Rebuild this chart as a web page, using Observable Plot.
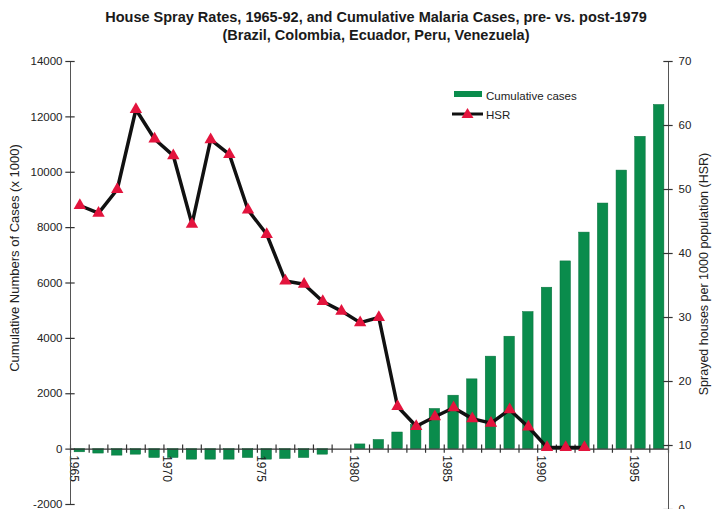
<!DOCTYPE html>
<html>
<head>
<meta charset="utf-8">
<script src="https://cdn.jsdelivr.net/npm/d3@7"></script>
<script src="https://cdn.jsdelivr.net/npm/@observablehq/plot@0.6"></script>
<style>
  body { margin: 0; background: #fff; font-family: "Liberation Sans", Arial, sans-serif; }
  #wrap { position: relative; width: 714px; height: 509px; overflow: hidden; background: #fff; }
  #title { position: absolute; left: 0; top: 8px; width: 752px; text-align: center; font-weight: bold;
           font-size: 14.5px; line-height: 18px; color: #1a1a1a; }
  #chart { position: absolute; left: 0; top: 50px; }
  .lg { position: absolute; font-size: 11.5px; line-height: 14px; color: #222; white-space: nowrap; }
</style>
</head>
<body>
<div id="wrap">
  <div id="title">House Spray Rates, 1965-92, and Cumulative Malaria Cases, pre- vs. post-1979<br>(Brazil, Colombia, Ecuador, Peru, Venezuela)</div>
  <div id="chart"></div>
  <div class="lg" style="left:454px;top:91px;width:28px;height:6px;background:#0a8c4c;"></div>
  <div class="lg" style="left:486px;top:89px;">Cumulative cases</div>
  <svg class="lg" style="left:452px;top:106px;" width="32" height="14">
    <line x1="0" y1="8" x2="31" y2="8" stroke="#111" stroke-width="3"/>
    <path d="M15.5,2 L21.5,12 L9.5,12 Z" fill="#e3143d"/>
  </svg>
  <div class="lg" style="left:486px;top:108px;">HSR</div>
</div>
<script>
// ---- data ----
const barYears = [1965,1966,1967,1968,1969,1970,1971,1972,1973,1974,1975,1976,1977,1978,1979,1980,
                  1981,1982,1983,1984,1985,1986,1987,1988,1989,1990,1991,1992,1993,1994,1995,1996];
const cumulativeCases = [-115,-160,-235,-200,-320,-320,-380,-380,-380,-320,-380,-355,-320,-200,0,170,
                         330,600,870,1450,1930,2520,3340,4060,4950,5830,6780,7820,8870,10060,11280,12430];
const hsrYears = [1965,1966,1967,1968,1969,1970,1971,1972,1973,1974,1975,1976,1977,1978,
                  1979,1980,1981,1982,1983,1984,1985,1986,1987,1988,1989,1990,1991,1992];
const hsrValues = [47.5,46.3,50.0,62.5,57.9,55.3,44.6,57.8,55.5,46.8,43.0,35.7,35.2,32.5,
                   31.0,29.2,30.0,16.1,13.0,14.5,15.9,14.2,13.5,15.6,12.9,9.7,9.7,9.7];
const caseTicks = [-2000,0,2000,4000,6000,8000,10000,12000,14000];
const hsrTicks = [0,10,20,30,40,50,60,70];
const axisYears = [1965,1966,1967,1968,1969,1970,1971,1972,1973,1974,1975,1976,1977,1978,1979,1980,1981,
                   1982,1983,1984,1985,1986,1987,1988,1989,1990,1991,1992,1993,1994,1995,1996,1997];
const yearLabels = [1965,1970,1975,1980,1985,1990,1995];

// secondary (HSR) axis expressed in the primary (cases) scale
const HSR_ZERO = -2181;
const HSR_K = (14000 - HSR_ZERO) / 70;
const toCases = v => HSR_ZERO + v * HSR_K;

const bars = barYears.map((y, i) => ({year: y, cases: cumulativeCases[i]}));
const hsr = hsrYears.map((y, i) => ({year: y, hsr: hsrValues[i]}));

const green = "#0a8c4c";
const red = "#e3143d";
const ink = "#222";

const chart = Plot.plot({
  width: 714,
  height: 459,
  marginLeft: 70,
  marginRight: 46,
  marginTop: 11,
  marginBottom: 5,
  style: {fontFamily: "Liberation Sans, Arial, sans-serif", background: "transparent", overflow: "visible"},
  x: {domain: [1965, 1997], axis: null},
  y: {domain: [-2000, 14000], axis: null},
  marks: [
    Plot.rectY(bars, {x1: d => d.year + 0.22, x2: d => d.year + 0.78, y1: 0, y2: "cases",
                      fill: green, stroke: "#07703c", strokeWidth: 0.5}),
    // x axis
    Plot.ruleY([0], {x1: 1965, x2: 1997, stroke: "#333", strokeWidth: 1.3}),
    Plot.ruleX(axisYears, {x: d => d, y1: -150, y2: 150, stroke: "#333", strokeWidth: 1.2}),
    Plot.text(yearLabels, {x: d => d, y: 0, text: d => String(d), rotate: 90, textAnchor: "start",
                           dx: 3, dy: 6, fontSize: 12, fill: ink}),
    // left axis
    Plot.ruleX([1965], {y1: -2000, y2: 14000, stroke: "#555", strokeWidth: 1}),
    Plot.ruleY(caseTicks, {y: d => d, x1: 1964.75, x2: 1965.25, stroke: "#333", strokeWidth: 1.2}),
    Plot.text(caseTicks, {x: 1965, y: d => d, text: d => String(d), textAnchor: "end", dx: -8,
                          fontSize: 11.5, fill: ink}),
    // right axis
    Plot.ruleX([1997], {y1: toCases(0), y2: toCases(70), stroke: "#555", strokeWidth: 1}),
    Plot.ruleY(hsrTicks, {y: d => toCases(d), x1: 1996.75, x2: 1997.25, stroke: "#333", strokeWidth: 1.2}),
    Plot.text(hsrTicks, {x: 1997, y: d => toCases(d), text: d => String(d), textAnchor: "start", dx: 10,
                         fontSize: 11.5, fill: ink}),
    // HSR line
    Plot.line(hsr, {x: d => d.year + 0.5, y: d => toCases(d.hsr), stroke: "#111", strokeWidth: 3.5,
                    strokeLinejoin: "round"}),
    Plot.dot(hsr, {x: d => d.year + 0.5, y: d => toCases(d.hsr), symbol: "triangle", r: 4.6,
                   fill: red, stroke: "none"}),
    // axis titles
    Plot.text(["Cumulative Numbers of Cases (x 1000)"], {frameAnchor: "left", textAnchor: "middle", rotate: -90,
                                                         dx: -56, dy: -25, fontSize: 13, fill: ink}),
    Plot.text(["Sprayed houses per 1000 population (HSR)"], {frameAnchor: "right", textAnchor: "middle", rotate: -90,
                                                             dx: 35, dy: -9, fontSize: 12.5, fill: ink})
  ]
});
document.getElementById("chart").appendChild(chart);
</script>
</body>
</html>
